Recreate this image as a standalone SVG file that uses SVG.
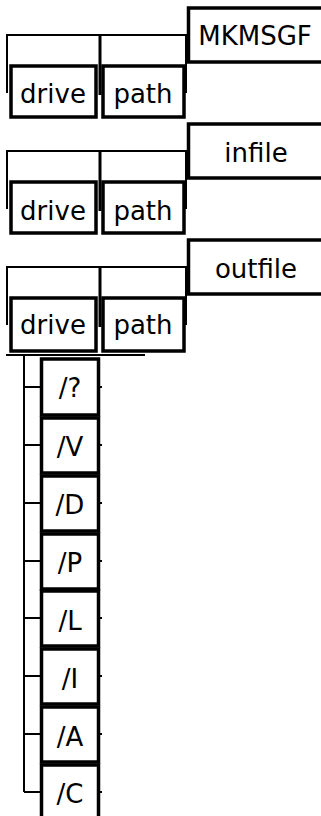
<svg xmlns="http://www.w3.org/2000/svg" width="321" height="816" viewBox="0 0 321 816">
<style>
.box{fill:#fff;stroke:#000;stroke-width:3.5}
.ln{fill:none;stroke:#000;stroke-width:2}
.thk{fill:none;stroke:#000;stroke-width:3}
text{font-family:"DejaVu Sans",sans-serif;font-size:26px;fill:#000;text-anchor:middle}
</style>
<rect width="321" height="816" fill="#fff"/>
<g id="connectors">
<path class="ln" d="M6 35H187M7 35V93M186 35V93"/>
<path class="thk" d="M100 35V95"/>
<path class="ln" d="M6 151H187M7 151V209M186 151V209"/>
<path class="thk" d="M100 151V211"/>
<path class="ln" d="M6 267H187M7 267V325M186 267V325"/>
<path class="thk" d="M100 267V327"/>
<path class="ln" d="M6 355H145M24 355V792"/>
<path class="ln" d="M24 387H41M24 445H41M24 503H41M24 561H41M24 618H41M24 676H41M24 734H41M24 792H41"/>
<path class="ln" d="M99 387H102M99 445H102M99 503H102M99 561H102M99 618H102M99 676H102M99 734H102M99 792H102"/>
</g>
<g id="n-mkmsgf"><rect class="box" x="188.5" y="8" width="135" height="54"/><text x="255" y="45">MKMSGF</text></g>
<g id="n-drive1"><rect class="box" x="11" y="66" width="85" height="51"/><text x="53" y="103">drive</text></g>
<g id="n-path1"><rect class="box" x="103" y="66" width="81" height="51"/><text x="143" y="103">path</text></g>
<g id="n-infile"><rect class="box" x="188.5" y="124" width="135" height="54"/><text x="256" y="162">infile</text></g>
<g id="n-drive2"><rect class="box" x="11" y="182" width="85" height="51"/><text x="53" y="220">drive</text></g>
<g id="n-path2"><rect class="box" x="103" y="182" width="81" height="51"/><text x="143" y="220">path</text></g>
<g id="n-outfile"><rect class="box" x="188.5" y="240" width="135" height="54"/><text x="256" y="278">outfile</text></g>
<g id="n-drive3"><rect class="box" x="11" y="298" width="85" height="53"/><text x="53" y="334">drive</text></g>
<g id="n-path3"><rect class="box" x="103" y="298" width="81" height="53"/><text x="143" y="334">path</text></g>
<g id="n-q"><rect class="box" x="41.5" y="359" width="57" height="56"/><text x="70" y="397">/?</text></g>
<g id="n-v"><rect class="box" x="41.5" y="418" width="57" height="55"/><text x="70" y="456">/V</text></g>
<g id="n-d"><rect class="box" x="41.5" y="476" width="57" height="55"/><text x="70" y="514">/D</text></g>
<g id="n-p"><rect class="box" x="41.5" y="534" width="57" height="55"/><text x="70" y="572">/P</text></g>
<g id="n-l"><rect class="box" x="41.5" y="591" width="57" height="55"/><text x="70" y="630">/L</text></g>
<g id="n-i"><rect class="box" x="41.5" y="649" width="57" height="55"/><text x="70" y="688">/I</text></g>
<g id="n-a"><rect class="box" x="41.5" y="707" width="57" height="55"/><text x="70" y="746">/A</text></g>
<g id="n-c"><rect class="box" x="41.5" y="765" width="57" height="55"/><text x="70" y="803">/C</text></g>
</svg>
